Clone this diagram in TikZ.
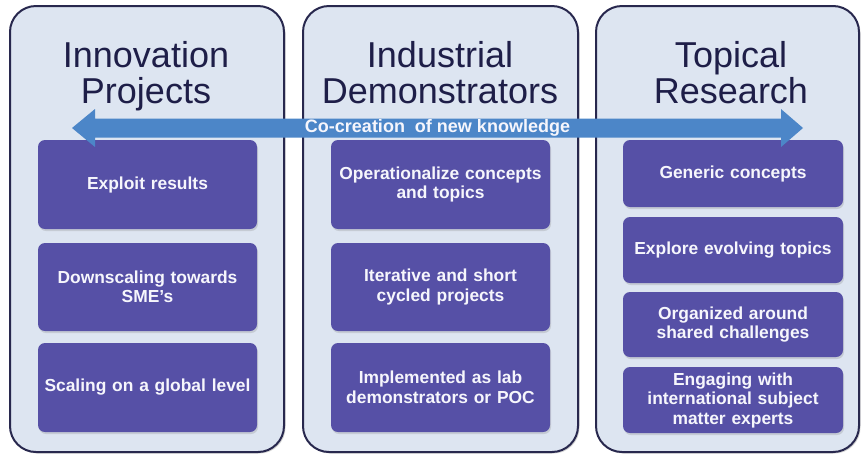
\documentclass[tikz,border=0pt]{standalone}
\usepackage{fontspec}
\setmainfont{Liberation Sans}
\usetikzlibrary{shadows}
\definecolor{panelfill}{RGB}{221,229,241}
\definecolor{panelline}{RGB}{40,40,78}
\definecolor{titlecol}{RGB}{30,30,72}
\definecolor{boxfill}{RGB}{86,80,166}
\definecolor{arrowcol}{RGB}{76,134,200}
\definecolor{boxtext}{RGB}{246,246,252}
\tikzset{
  panel/.style={draw=panelline, line width=2pt, fill=panelfill, rounded corners=26pt,
    drop shadow={shadow xshift=1.5pt, shadow yshift=-1.5pt, opacity=0.35}},
  titletext/.style={anchor=base, inner sep=0pt, text=titlecol, font=\fontsize{36}{36}\selectfont},
  itembox/.style={fill=boxfill, rounded corners=7pt, inner sep=0pt, text=boxtext,
    align=center, text width=214pt, font=\bfseries\fontsize{17.4}{19.5}\selectfont,
    drop shadow={shadow xshift=1pt, shadow yshift=-2pt, opacity=0.25}},
  leftbox/.style={itembox, minimum width=219pt},
  rightbox/.style={itembox, minimum width=220pt},
}
\begin{document}
\begin{tikzpicture}[x=1pt,y=-1pt]
\useasboundingbox[fill=white] (0,0) rectangle (862,456);
% panels
\path[panel] (10,6) rectangle (284,452);
\path[panel] (303,6) rectangle (578,452);
\path[panel] (596,6) rectangle (859,452);
% titles
\node[titletext] (t1a) at (146,67) {Innovation};
\node[titletext] (t1b) at (146,103) {Projects};
\node[titletext] (t2a) at (440,67) {Industrial};
\node[titletext] (t2b) at (440,103) {Demonstrators};
\node[titletext] (t3a) at (731,67) {Topical};
\node[titletext] (t3b) at (731,103) {Research};
% left column
\node[leftbox, minimum height=89pt] (l1) at (147.5,184.5) {Exploit results};
\node[leftbox, minimum height=88pt] (l2) at (147.5,287) {Downscaling towards\\SME's};
\node[leftbox, minimum height=89pt] (l3) at (147.5,387.5) {Scaling on a global level};
% middle column
\node[leftbox, minimum height=89pt] (m1) at (440.5,184.5) {Operationalize concepts\\and topics};
\node[leftbox, minimum height=88pt] (m2) at (440.5,287) {Iterative and short\\cycled projects};
\node[leftbox, minimum height=89pt] (m3) at (440.5,387.5) {Implemented as lab\\demonstrators or POC};
% right column
\node[rightbox, minimum height=67pt] (r1) at (733,173.5) {Generic concepts};
\node[rightbox, minimum height=66pt] (r2) at (733,250) {Explore evolving topics};
\node[rightbox, minimum height=65pt] (r3) at (733,324.5) {Organized around\\shared challenges};
\node[rightbox, minimum height=66pt] (r4) at (733,400) {Engaging with\\international subject\\matter experts};
% double arrow
\fill[arrowcol] (72,128) -- (95,109) -- (95,118.5) -- (781,118.5) -- (781,109) -- (803,128)
  -- (781,147) -- (781,137.5) -- (95,137.5) -- (95,147) -- cycle;
\node[inner sep=0pt, text=boxtext, font=\bfseries\fontsize{18}{18}\selectfont] (arrowlabel) at (437.5,128) {Co-creation\ \ of new knowledge};
\end{tikzpicture}
\end{document}
